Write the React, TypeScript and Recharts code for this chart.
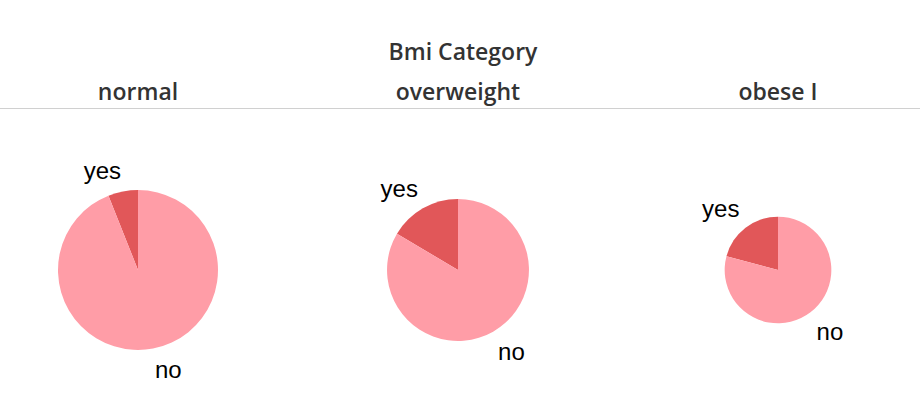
import { PieChart, Pie, Cell } from "recharts";

const groups = ["normal", "overweight", "obese I"];
const answers = ["yes", "no"];
const normalCounts = [13, 203];
const overweightCounts = [28, 142];
const obeseCounts = [20, 76];

const colors: Record<string, string> = { yes: "#E15759", no: "#FF9DA7" };

const series = [normalCounts, overweightCounts, obeseCounts].map((counts) =>
  answers.map((name, i) => ({ name, value: counts[i] }))
);

const W = 920;
const H = 420;
const panelX = [138, 458, 778];
const pieY = 270;
const maxRadius = 80;
const maxTotal = Math.max(...series.map((s) => s.reduce((a, d) => a + d.value, 0)));

const RAD = Math.PI / 180;

// label box sits just outside the slice, pushed away from the pie on both axes
function renderLabel(props: any) {
  const { cx, cy, midAngle, outerRadius, name } = props;
  const r = outerRadius + 10;
  const cos = Math.cos(-midAngle * RAD);
  const sin = Math.sin(-midAngle * RAD);
  const x = cx + r * cos;
  const y = cy + r * sin + (sin < 0 ? -11 : 11);
  return (
    <text
      x={x}
      y={y}
      textAnchor={cos < 0 ? "end" : "start"}
      dominantBaseline="central"
      fill="#000"
      fontSize={24}
      fontFamily="'Liberation Sans', Arial, sans-serif"
    >
      {name}
    </text>
  );
}

export default function App() {
  const headerFont = "'Open Sans', sans-serif";
  return (
    <div style={{ position: "absolute", left: 0, top: 0, width: W, height: H, background: "#fff" }}>
      <div
        style={{
          position: "absolute",
          left: 0,
          width: W,
          top: 35,
          textAlign: "center",
          fontFamily: headerFont,
          fontWeight: 600,
          fontSize: 23,
          color: "#333",
          transform: "translateX(3px)",
        }}
      >
        Bmi Category
      </div>
      {groups.map((g, i) => (
        <div
          key={g}
          style={{
            position: "absolute",
            left: panelX[i] - 150,
            width: 300,
            top: 75,
            textAlign: "center",
            fontFamily: headerFont,
            fontWeight: 600,
            fontSize: 23,
            color: "#333",
          }}
        >
          {g}
        </div>
      ))}
      <div style={{ position: "absolute", left: 0, top: 108, width: W, height: 1, background: "#d0d0d0" }} />
      <div style={{ position: "absolute", left: 0, top: 0 }}>
        <PieChart width={W} height={H} margin={{ top: 0, right: 0, bottom: 0, left: 0 }}>
          {series.map((data, i) => {
            const total = data.reduce((a, d) => a + d.value, 0);
            const radius = maxRadius * Math.sqrt(total / maxTotal);
            return (
              <Pie
                key={groups[i]}
                data={data}
                dataKey="value"
                nameKey="name"
                cx={panelX[i]}
                cy={pieY}
                outerRadius={radius}
                startAngle={90}
                endAngle={450}
                stroke="none"
                label={renderLabel}
                labelLine={false}
                isAnimationActive={false}
              >
                {data.map((d) => (
                  <Cell key={d.name} fill={colors[d.name]} />
                ))}
              </Pie>
            );
          })}
        </PieChart>
      </div>
    </div>
  );
}
